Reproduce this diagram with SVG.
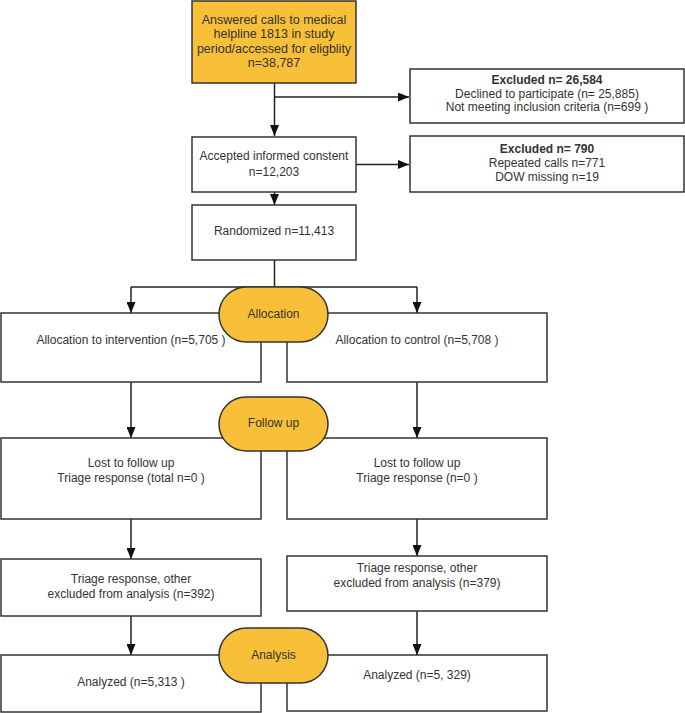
<svg xmlns="http://www.w3.org/2000/svg" width="685" height="713" viewBox="0 0 685 713">
<style>
.box{fill:#ffffff;stroke:#333333;stroke-width:1.5}
.orange{fill:#F8BF38;stroke:#333333;stroke-width:1.5}
.t{font-family:"Liberation Sans",Arial,sans-serif;font-size:12px;fill:#333333;text-anchor:middle}
.big{font-size:12.5px}
.b{font-weight:bold}
.c{fill:none;stroke:#222222;stroke-width:1.5}
</style>
<defs>
<marker id="arr" markerUnits="userSpaceOnUse" markerWidth="11" markerHeight="9" refX="11" refY="4.5" orient="auto">
<path d="M0,0 L11,4.5 L0,9 z" fill="#111111"/>
</marker>
</defs>
<rect width="685" height="713" fill="#ffffff"/>

<g id="connectors">
<line class="c" x1="274.5" y1="83" x2="274.5" y2="136" marker-end="url(#arr)"/>
<line class="c" x1="274.5" y1="97" x2="409" y2="97" marker-end="url(#arr)"/>
<line class="c" x1="356" y1="164.5" x2="409" y2="164.5" marker-end="url(#arr)"/>
<line class="c" x1="274.5" y1="192" x2="274.5" y2="205" marker-end="url(#arr)"/>
<line class="c" x1="274.5" y1="260" x2="274.5" y2="287"/>
<line class="c" x1="131" y1="287" x2="417" y2="287"/>
<line class="c" x1="131" y1="287" x2="131" y2="313" marker-end="url(#arr)"/>
<line class="c" x1="417" y1="287" x2="417" y2="313" marker-end="url(#arr)"/>
<line class="c" x1="131" y1="382" x2="131" y2="438" marker-end="url(#arr)"/>
<line class="c" x1="417" y1="382" x2="417" y2="438" marker-end="url(#arr)"/>
<line class="c" x1="131" y1="519" x2="131" y2="559" marker-end="url(#arr)"/>
<line class="c" x1="417" y1="519" x2="417" y2="556" marker-end="url(#arr)"/>
<line class="c" x1="131" y1="616" x2="131" y2="655" marker-end="url(#arr)"/>
<line class="c" x1="417" y1="611" x2="417" y2="655" marker-end="url(#arr)"/>
</g>

<g id="n-answered">
<rect class="orange" x="192" y="1" width="164" height="82"/>
<text class="t big" x="274" y="23.5">Answered calls to medical</text>
<text class="t big" x="274" y="38">helpline 1813 in study</text>
<text class="t big" x="274" y="52.5">period/accessed for eligblity</text>
<text class="t big" x="274" y="67">n=38,787</text>
</g>

<g id="n-excluded1">
<rect class="box" x="410" y="69" width="274" height="54"/>
<text class="t b" x="547" y="83.5">Excluded n= 26,584</text>
<text class="t" x="547" y="97.5">Declined to participate (n= 25,885)</text>
<text class="t" x="547" y="111">Not meeting inclusion criteria (n=699 )</text>
</g>

<g id="n-accepted">
<rect class="box" x="192" y="137" width="164" height="55"/>
<text class="t" x="274" y="160">Accepted informed constent</text>
<text class="t" x="274" y="176">n=12,203</text>
</g>

<g id="n-excluded2">
<rect class="box" x="410" y="136" width="274" height="56"/>
<text class="t b" x="547" y="152.5">Excluded n= 790</text>
<text class="t" x="547" y="166.5">Repeated calls n=771</text>
<text class="t" x="547" y="181">DOW missing n=19</text>
</g>

<g id="n-randomized">
<rect class="box" x="192" y="205" width="164" height="55"/>
<text class="t" x="274" y="235">Randomized n=11,413</text>
</g>

<g id="n-alloc-int">
<rect class="box" x="1" y="313" width="260" height="69"/>
<text class="t" x="131" y="344">Allocation to intervention (n=5,705 )</text>
</g>
<g id="n-alloc-ctl">
<rect class="box" x="287" y="313" width="260" height="69"/>
<text class="t" x="417" y="344">Allocation to control (n=5,708 )</text>
</g>
<g id="n-allocation">
<rect class="orange" x="219" y="287" width="109" height="55" rx="27.5" ry="27.5"/>
<text class="t" x="273.5" y="317.5">Allocation</text>
</g>

<g id="n-lost-int">
<rect class="box" x="1" y="438" width="260" height="81"/>
<text class="t" x="131" y="467">Lost to follow up</text>
<text class="t" x="131" y="482">Triage response (total n=0 )</text>
</g>
<g id="n-lost-ctl">
<rect class="box" x="287" y="438" width="260" height="81"/>
<text class="t" x="417" y="467">Lost to follow up</text>
<text class="t" x="417" y="482">Triage response (n=0 )</text>
</g>
<g id="n-followup">
<rect class="orange" x="219" y="397" width="109" height="54" rx="27" ry="27"/>
<text class="t" x="273.5" y="427">Follow up</text>
</g>

<g id="n-triage-int">
<rect class="box" x="1" y="559" width="260" height="57"/>
<text class="t" x="131" y="583">Triage response, other</text>
<text class="t" x="131" y="597.5">excluded from analysis (n=392)</text>
</g>
<g id="n-triage-ctl">
<rect class="box" x="287" y="556" width="260" height="55"/>
<text class="t" x="417" y="572">Triage response, other</text>
<text class="t" x="417" y="586.5">excluded from analysis (n=379)</text>
</g>

<g id="n-analyzed-int">
<rect class="box" x="1" y="655" width="260" height="57"/>
<text class="t" x="131" y="686">Analyzed (n=5,313 )</text>
</g>
<g id="n-analyzed-ctl">
<rect class="box" x="287" y="655" width="260" height="56"/>
<text class="t" x="417" y="678.5">Analyzed (n=5, 329)</text>
</g>
<g id="n-analysis">
<rect class="orange" x="219" y="628" width="109" height="55" rx="27.5" ry="27.5"/>
<text class="t" x="273.5" y="659">Analysis</text>
</g>
</svg>
